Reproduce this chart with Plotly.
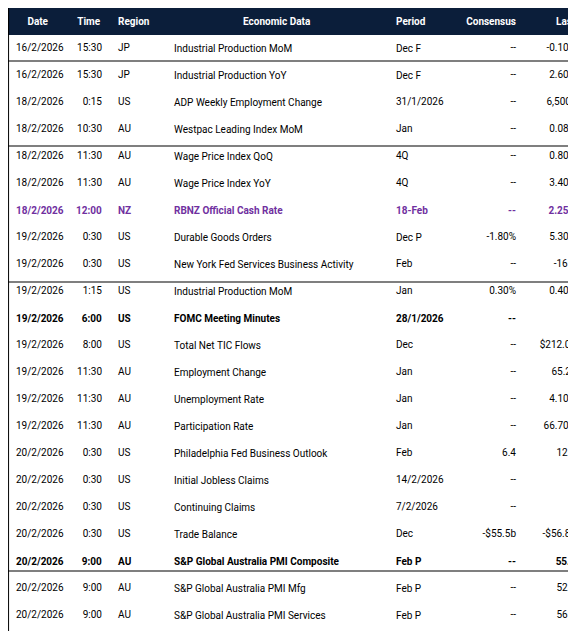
import plotly.graph_objects as go

headers = ["Date", "Time", "Region", "Economic Data", "Period", "Consensus", "Last"]
dates = ["16/2/2026"]*2 + ["18/2/2026"]*5 + ["19/2/2026"]*8 + ["20/2/2026"]*17 + ["21/2/2026"]*4
times = ["15:30","15:30","0:15","10:30","11:30","11:30","12:00",
         "0:30","0:30","1:15","6:00","8:00","11:30","11:30","11:30",
         "0:30","0:30","0:30","0:30","9:00","9:00","9:00","10:30","10:30","10:30","11:30","11:30","11:30","19:15","19:30","20:00","20:30",
         "0:30","0:30","0:30","0:30"]
regions = ["JP","JP","US","AU","AU","AU","NZ",
           "US","US","US","US","US","AU","AU","AU",
           "US","US","US","US","AU","AU","AU","JP","JP","JP","JP","JP","JP","FR","DE","EZ","UK",
           "US","US","US","US"]
events = ["Industrial Production MoM","Industrial Production YoY",
          "ADP Weekly Employment Change","Westpac Leading Index MoM","Wage Price Index QoQ","Wage Price Index YoY","RBNZ Official Cash Rate",
          "Durable Goods Orders","New York Fed Services Business Activity","Industrial Production MoM","FOMC Meeting Minutes","Total Net TIC Flows","Employment Change","Unemployment Rate","Participation Rate",
          "Philadelphia Fed Business Outlook","Initial Jobless Claims","Continuing Claims","Trade Balance",
          "S&P Global Australia PMI Composite","S&P Global Australia PMI Mfg","S&P Global Australia PMI Services",
          "Natl CPI YoY","Natl CPI Ex Fresh Food YoY","Natl CPI Ex Fresh Food, Energy YoY",
          "S&P Global Japan PMI Composite","S&P Global Japan PMI Mfg","S&P Global Japan PMI Services",
          "HCOB France Composite PMI","HCOB Germany Composite PMI","HCOB Eurozone Composite PMI","S&P Global UK Composite PMI",
          "PCE Price Index YoY","Core PCE Price Index YoY","GDP Annualized QoQ","Personal Consumption"]
periods = ["Dec F","Dec F","31/1/2026","Jan","4Q","4Q","18-Feb",
           "Dec P","Feb","Jan","28/1/2026","Dec","Jan","Jan","Jan",
           "Feb","14/2/2026","7/2/2026","Dec","Feb P","Feb P","Feb P","Jan","Jan","Jan","Feb P","Feb P","Feb P","Feb P","Feb P","Feb P","Feb P",
           "Dec","Dec","4Q A","4Q A"]
consensus = ["--","--","--","--","--","--","--",
             "-1.80%","--","0.30%","--","--","--","--","--",
             "6.4","--","--","-$55.5b","--","--","--","--","--","--","--","--","--","--","--","--","--",
             "--","3.00%","2.90%","--"]
last = ["-0.10%","2.60%","6,500k","0.08%","0.80%","3.40%","2.25%",
        "5.30%","-16.1","0.40%","--","$212.0b","65.2k","4.10%","66.70%",
        "12.6","--","--","-$56.8b","55.7","52.3","56.3","2.10%","2.40%","2.90%","53.1","51.5","53.7","49.1","52.1","51.3","53.7",
        "2.80%","2.80%","4.40%","3.50%"]
bold_rows = {6,10,19,22,23,28,29,30,31,32,33,34}
purple_rows = {6}

def nb(s):
    return s.replace(" ", "&nbsp;")

cols = [dates, times, regions, events, periods, consensus, last]
n = len(dates)
cells = [[f"<b>{nb(v)}</b>" if i in bold_rows else nb(v) for i, v in enumerate(c)] for c in cols]
colors = ["#7030a0" if i in purple_rows else "black" for i in range(n)]

HH, RH, H, W = 19, 17, 631, 576
fig = go.Figure(go.Table(
    columnwidth=[60, 42, 56, 222, 72, 64, 60],
    header=dict(values=[f"<b>{h}</b>" for h in headers], fill_color="#0b1e3a",
                font=dict(color="white", size=10, family="Roboto"),
                align=["center","center","left","center","left","right","right"],
                height=HH, line=dict(width=0, color="#0b1e3a")),
    cells=dict(values=cells, fill_color="white",
               font=dict(color=[colors]*7, size=10, family="Roboto"),
               align=["left","right","left","left","left","right","right"],
               height=RH, line=dict(width=0, color="white")),
))
shapes = []
for i in range(1, n):
    if dates[i] != dates[i-1]:
        y = 1 - (HH + RH*i)/H
        shapes.append(dict(type="line", xref="paper", yref="paper", x0=0, x1=1, y0=y, y1=y,
                           line=dict(color="black", width=1.2)))
shapes.append(dict(type="line", xref="paper", yref="paper", x0=0.999, x1=0.999, y0=0, y1=1, line=dict(color="black", width=1)))
shapes.append(dict(type="line", xref="paper", yref="paper", x0=0.001, x1=0.001, y0=0, y1=1, line=dict(color="black", width=1)))
fig.update_layout(width=W, height=H, margin=dict(l=0, r=0, t=0, b=0), shapes=shapes,
                  paper_bgcolor="white")
fig.write_html("out.html")
